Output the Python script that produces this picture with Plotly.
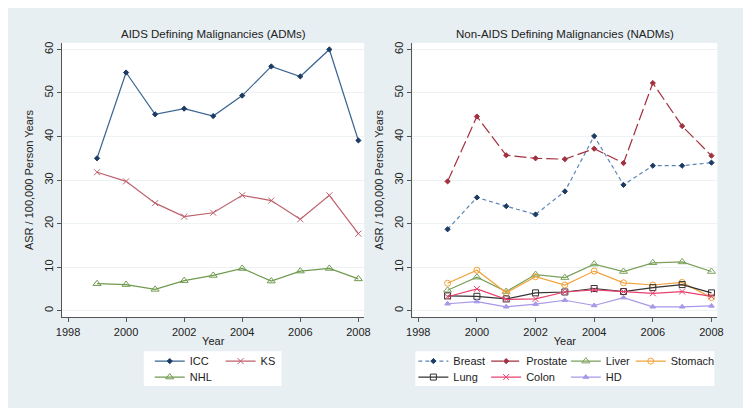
import plotly.graph_objects as go

years = [1999, 2000, 2001, 2002, 2003, 2004, 2005, 2006, 2007, 2008]

# AIDS defining malignancies
icc = [35.0, 54.7, 45.1, 46.4, 44.7, 49.4, 56.1, 53.8, 60.0, 39.1]
ks = [31.8, 29.7, 24.7, 21.6, 22.5, 26.5, 25.3, 21.0, 26.5, 17.7]
nhl = [6.2, 6.0, 4.9, 6.9, 8.1, 9.7, 6.8, 9.1, 9.7, 7.3]

# non-AIDS defining malignancies
breast = [18.7, 26.0, 24.0, 22.1, 27.4, 40.1, 28.9, 33.3, 33.3, 34.0]
prostate = [29.7, 44.6, 35.7, 35.0, 34.8, 37.2, 33.9, 52.3, 42.4, 35.6]
liver = [4.7, 7.7, 4.4, 8.3, 7.6, 10.7, 9.0, 11.0, 11.2, 9.0]
stomach = [6.3, 9.3, 4.1, 7.8, 5.9, 9.1, 6.4, 5.9, 6.5, 3.0]
lung = [3.4, 3.3, 2.7, 4.1, 4.3, 5.1, 4.4, 5.3, 6.0, 4.1]
colon = [3.2, 5.0, 2.6, 2.7, 4.3, 4.8, 4.4, 4.0, 4.4, 3.3]
hd = [1.6, 2.1, 0.9, 1.5, 2.4, 1.2, 3.0, 0.9, 0.9, 1.1]

# page body has an 8px margin, so the figure itself is the blue panel
W, H = 735, 400
OFF = 8
FONT = "Liberation Sans, Arial, sans-serif"
BG = "#e8eff2"


def fx(px):
    return (px - OFF) / W


def fy(py):
    return 1 - (py - OFF) / H


fig = go.Figure()

# name, values, panel, line colour, marker colour, symbol, size, dash, legend pos (x px, y px)
series = [
    ("ICC", icc, 1, "#3a6591", "#1c3b63", "diamond", 4, "solid", (146, 361)),
    ("KS", ks, 1, "#bd616d", "#bd616d", "x-thin", 6, "solid", (218, 361)),
    ("NHL", nhl, 1, "#6f9a4e", "#6f9a4e", "triangle-up-open", 7, "solid", (146, 377)),
    ("Breast", breast, 2, "#5a86b5", "#1c3b63", "diamond", 4, "4px,3px", (414, 361)),
    ("Prostate", prostate, 2, "#a3303f", "#a3303f", "diamond", 4, "12px,4px", (488, 361)),
    ("Liver", liver, 2, "#7aa05a", "#7aa05a", "triangle-up-open", 7, "solid", (569, 361)),
    ("Stomach", stomach, 2, "#f2a23a", "#f2a23a", "circle-open", 6, "solid", (635, 361)),
    ("Lung", lung, 2, "#333333", "#333333", "square-open", 6, "solid", (414, 377)),
    ("Colon", colon, 2, "#e8406e", "#e8406e", "x-thin", 6, "solid", (488, 377)),
    ("HD", hd, 2, "#a898e8", "#a898e8", "triangle-up", 5, "solid", (569, 377)),
]

for i, (name, vals, panel, lc, mc, sym, sz, dash, (lx, ly)) in enumerate(series):
    leg = "legend" if i == 0 else "legend%d" % (i + 1)
    fig.add_trace(go.Scatter(
        x=years, y=vals, name=name, mode="lines+markers",
        xaxis="x" if panel == 1 else "x2", yaxis="y" if panel == 1 else "y2",
        line=dict(color=lc, width=1.2, dash=dash),
        marker=dict(color=mc, symbol=sym, size=sz, line=dict(color=mc, width=1)),
        legend=leg,
    ))
    fig.layout[leg] = dict(
        x=fx(lx), y=fy(ly), xanchor="left", yanchor="middle",
        bgcolor="rgba(0,0,0,0)", borderwidth=0, orientation="h",
        font=dict(family=FONT, size=11, color="#222"),
    )

axis_common = dict(
    showline=True, linecolor="#555", linewidth=1.3,
    ticks="outside", ticklen=4, tickcolor="#555",
    tickfont=dict(family=FONT, size=11, color="#222"),
    zeroline=False,
)
xcommon = dict(axis_common, range=[1997.8, 2008.2], tickvals=[1998, 2000, 2002, 2004, 2006, 2008],
               showgrid=False, title=dict(text="Year", font=dict(family=FONT, size=11, color="#222"), standoff=0))
ycommon = dict(axis_common, range=[-1.5, 61.5], tickvals=[0, 10, 20, 30, 40, 50, 60],
               tickangle=-90, showgrid=True, gridcolor="#edf2f4", gridwidth=1,
               title=dict(text="ASR / 100,000 Person Years", font=dict(family=FONT, size=11, color="#222"), standoff=6))

ydom = [fy(317), fy(42)]
fig.update_layout(
    width=W, height=H, margin=dict(l=0, r=0, t=0, b=0),
    paper_bgcolor=BG, plot_bgcolor="white", showlegend=True,
    xaxis=dict(xcommon, domain=[fx(57), fx(364)], anchor="y"),
    yaxis=dict(ycommon, domain=ydom, anchor="x"),
    xaxis2=dict(xcommon, domain=[fx(413), fx(723)], anchor="y2"),
    yaxis2=dict(ycommon, domain=ydom, anchor="x2"),
)

# white legend boxes
fig.update_layout(shapes=[
    dict(type="rect", xref="paper", yref="paper", x0=fx(140), x1=fx(280), y0=fy(386), y1=fy(351),
         fillcolor="white", line=dict(width=0), layer="below"),
    dict(type="rect", xref="paper", yref="paper", x0=fx(416), x1=fx(720), y0=fy(386), y1=fy(351),
         fillcolor="white", line=dict(width=0), layer="below"),
])

for txt, cx in [("AIDS Defining Malignancies (ADMs)", 211), ("Non-AIDS Defining Malignancies (NADMs)", 568)]:
    fig.add_annotation(text=txt, x=fx(cx), y=fy(33), xref="paper", yref="paper",
                       showarrow=False, xanchor="center", yanchor="middle",
                       font=dict(family=FONT, size=11.5, color="#222"))

fig.write_html("out.html")
